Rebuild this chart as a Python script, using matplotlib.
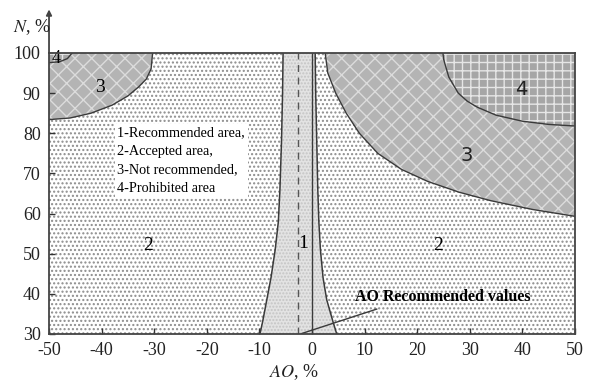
import numpy as np
import matplotlib.pyplot as plt

plt.rcParams['font.family'] = ['Liberation Serif', 'DejaVu Sans']
plt.rcParams['mathtext.fontset'] = 'stix'
plt.rcParams['axes.unicode_minus'] = False
plt.rcParams['hatch.linewidth'] = 1.0

# region 1 (recommended) boundaries
r1_left_x = [-9.9, -9.4, -8.6, -7.8, -7.0, -6.4, -6.1, -5.8, -5.6, -5.5]
r1_left_y = [30, 33, 38.5, 44, 51, 58, 66, 78, 90, 100]
r1_right_x = [4.7, 4.0, 2.8, 2.1, 1.6, 1.3, 1.1, 0.9, 0.7, 0.6]
r1_right_y = [30, 33, 38.5, 44, 51, 58, 66, 78, 90, 100]
ao_dash = -2.6

# region 3 (not recommended), right side
r3r_x = [2.5, 3, 4.5, 6.5, 9, 12.5, 17, 22, 28, 34, 42, 50]
r3r_y = [100, 95, 90, 85, 80, 75, 71, 68, 65.3, 63.2, 61, 59.3]
# region 4 (prohibited), right side
r4r_x = [24.9, 25, 26, 27.8, 29.5, 31.4, 35, 40, 45, 50]
r4r_y = [100, 98.5, 94, 90, 88, 86.5, 84.5, 83, 82.2, 81.8]
# region 3, left corner
r3l_x = [-50, -46, -42, -38, -35, -33, -31.5, -30.6, -30.3]
r3l_y = [83.4, 83.8, 85, 87, 89.3, 91.5, 93.5, 96, 100]
# region 4, left corner
r4l_x = [-50, -48, -46.5, -45.6]
r4l_y = [97.6, 97.8, 98.6, 100]

legend_lines = ['1-Recommended area,', '2-Accepted area,',
                '3-Not recommended,', '4-Prohibited area']

fig = plt.figure(figsize=(5.92, 3.81), dpi=100)
ax = fig.add_axes([0.0828, 0.1234, 0.8885, 0.7376])
ax.set_xlim(-50, 50)
ax.set_ylim(30, 100)

line_c = '#3a3a3a'

# region 2 background: dots over everything
ax.fill([-50, 50, 50, -50], [30, 30, 100, 100], facecolor='white',
        edgecolor='#8c8c8c', hatch='....', linewidth=0, zorder=0)

# region 1
ax.fill(r1_left_x + r1_right_x[::-1], r1_left_y + r1_right_y[::-1],
        facecolor='#e3e3e3', edgecolor='#c4c4c4', hatch='.....',
        linewidth=0, zorder=1)
ax.plot(r1_left_x, r1_left_y, color=line_c, lw=1.1, zorder=3)
ax.plot(r1_right_x, r1_right_y, color=line_c, lw=1.1, zorder=3)
ax.plot([0, 0], [30, 100], color=line_c, lw=1.0, zorder=3)
ax.plot([ao_dash, ao_dash], [30, 100], color='#555555', lw=1.0,
        ls=(0, (5, 4)), zorder=3)

# region 3 and 4, right
ax.fill(r3r_x + [50], r3r_y + [100], facecolor='#b4b4b4',
        edgecolor='#dcdcdc', hatch='xx', linewidth=0, zorder=1)
ax.plot(r3r_x, r3r_y, color=line_c, lw=1.0, zorder=3)
ax.fill(r4r_x + [50], r4r_y + [100], facecolor='#a6a6a6',
        edgecolor='#e6e6e6', hatch='++', linewidth=0, zorder=2)
ax.plot(r4r_x, r4r_y, color=line_c, lw=1.0, zorder=3)

# region 3 and 4, left corner
ax.fill(r3l_x + [-50], r3l_y + [100], facecolor='#b4b4b4',
        edgecolor='#dcdcdc', hatch='xx', linewidth=0, zorder=1)
ax.plot(r3l_x, r3l_y, color=line_c, lw=1.0, zorder=3)
ax.fill(r4l_x + [-50], r4l_y + [100], facecolor='#a6a6a6',
        edgecolor='#e6e6e6', hatch='++', linewidth=0, zorder=2)
ax.plot(r4l_x, r4l_y, color=line_c, lw=1.0, zorder=3)

# region numbers
ax.text(-48.6, 98.6, '4', fontsize=13, ha='center', va='center', zorder=4)
ax.text(-40.3, 91.3, '3', fontsize=14, ha='center', va='center', zorder=4)
ax.text(-31.2, 52, '2', fontsize=14, ha='center', va='center', zorder=4)
ax.text(-1.7, 52.5, '1', fontsize=14, ha='center', va='center', zorder=4)
ax.text(24, 52, '2', fontsize=14, ha='center', va='center', zorder=4)
ax.text(29.4, 74.5, '3', fontsize=14, ha='center', va='center', zorder=4,
        family='DejaVu Sans', color='#222222')
ax.text(39.8, 91, '4', fontsize=14, ha='center', va='center', zorder=4,
        family='DejaVu Sans', color='#222222')

ax.text(-37, 73.2, '\n'.join(legend_lines), fontsize=10.3, ha='left',
        va='center', linespacing=1.55, zorder=4,
        bbox=dict(facecolor='white', edgecolor='none', pad=2))

ax.text(8.2, 39.3, 'AO Recommended values', fontsize=11.5, fontweight='bold',
        ha='left', va='center', zorder=4)
ax.plot([-2.0, 12.3], [30.1, 36.2], color=line_c, lw=1.0, zorder=4)

# axes look
for s in ['top', 'right', 'bottom', 'left']:
    ax.spines[s].set_color('#444444')
    ax.spines[s].set_linewidth(1.3)
    ax.spines[s].set_zorder(5)
ax.set_xticks(np.arange(-50, 51, 10))
ax.set_yticks(np.arange(30, 101, 10))
ax.tick_params(direction='in', length=4, width=1, colors='#333333',
               labelsize=13, labelcolor='#222222', pad=6)
ax.annotate('', xy=(0, 1.155), xytext=(0, 1.0), xycoords='axes fraction',
            arrowprops=dict(arrowstyle='-|>', color='#444444', lw=1.3,
                            mutation_scale=8, shrinkA=0, shrinkB=0))

fig.text(0.022, 1 - 27 / 381, r'$N$, %', fontsize=13, ha='left', va='center',
         color='#222222')
fig.text(294 / 592, 1 - 372 / 381, r'$AO$, %', fontsize=13, ha='center',
         va='center', color='#222222')

fig.savefig('out.png', dpi=100)
